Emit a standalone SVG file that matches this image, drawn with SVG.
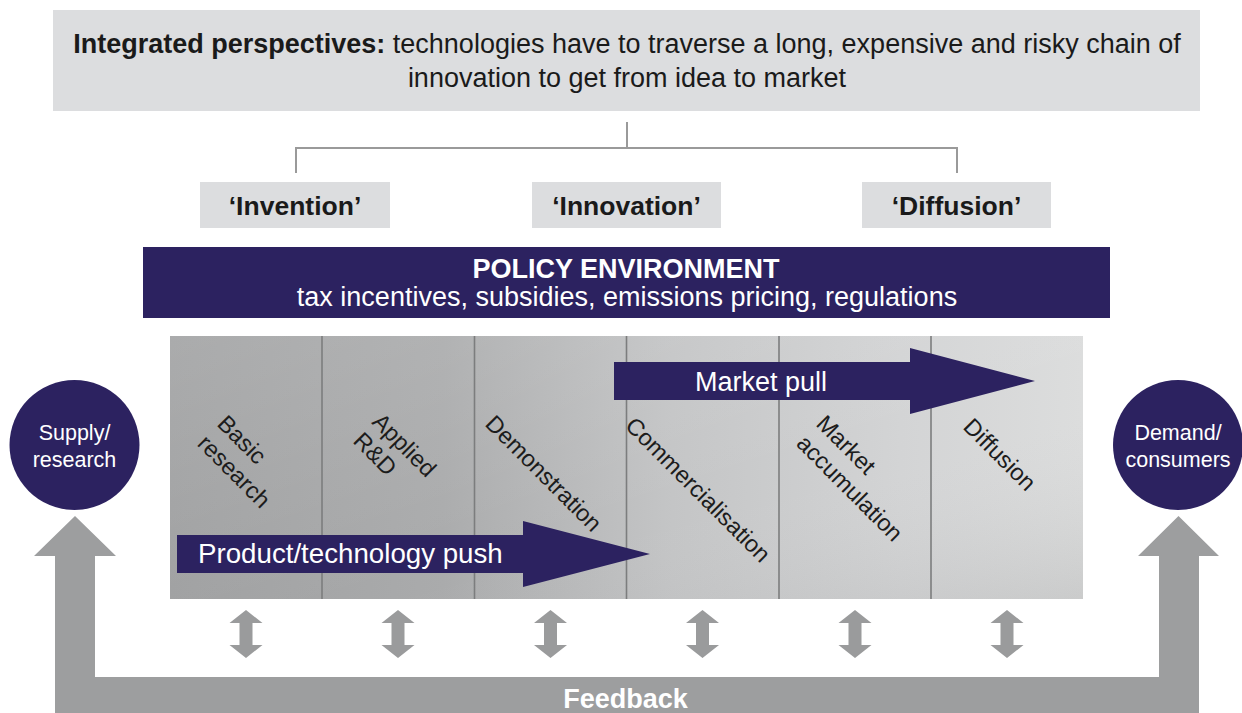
<svg xmlns="http://www.w3.org/2000/svg" width="1242" height="713" viewBox="0 0 1242 713">
  <defs>
    <linearGradient id="panelFill" x1="170" y1="0" x2="1083" y2="0" gradientUnits="userSpaceOnUse">
      <stop offset="0" stop-color="#9fa0a1"/>
      <stop offset="0.3" stop-color="#aaabac"/>
      <stop offset="0.55" stop-color="#c4c5c6"/>
      <stop offset="0.8" stop-color="#d3d4d5"/>
      <stop offset="1" stop-color="#dcdddd"/>
    </linearGradient>
    <linearGradient id="panelShade" x1="0" y1="0" x2="1" y2="1">
      <stop offset="0" stop-color="#ffffff" stop-opacity="0.12"/>
      <stop offset="0.6" stop-color="#ffffff" stop-opacity="0"/>
      <stop offset="1" stop-color="#000000" stop-opacity="0.08"/>
    </linearGradient>
    <path id="dbl" d="M0,0 L16.5,13 L6.5,13 L6.5,35 L16.5,35 L0,48 L-16.5,35 L-6.5,35 L-6.5,13 L-16.5,13 Z"/>
  </defs>
  <style>
    text { font-family: "Liberation Sans", Arial, Helvetica, sans-serif; }
    .greybox { fill: #dcdddf; }
    .navy { fill: #2c2260; }
    .title { font-size: 27px; fill: #1a1a1a; }
    .phase { font-size: 26.5px; font-weight: bold; fill: #1a1a1a; text-anchor: middle; }
    .policyHead { font-size: 27px; font-weight: bold; fill: #ffffff; text-anchor: middle; }
    .policySub { font-size: 27px; fill: #ffffff; text-anchor: middle; }
    .stage { font-size: 23.5px; fill: #1c1c1c; }
    .circleText { font-size: 21.5px; fill: #ffffff; text-anchor: middle; }
    .arrowText { font-size: 27px; fill: #ffffff; }
    .pushText { font-size: 27.7px; }
    .bracket { fill: none; stroke: #9a9a9a; stroke-width: 2; }
    .divider { stroke: #7c7d7e; stroke-width: 1.6; }
    .grey { fill: #9d9e9f; }
    .dblArrow { fill: #9a9b9c; }
  </style>

  <!-- headline box -->
  <g id="headline">
    <rect class="greybox" x="53" y="10" width="1147" height="101"/>
    <text class="title" x="627" y="53" text-anchor="middle"><tspan font-weight="bold">Integrated perspectives:</tspan> technologies have to traverse a long, expensive and risky chain of</text>
    <text class="title" x="627" y="87" text-anchor="middle">innovation to get from idea to market</text>
  </g>

  <!-- phase labels -->
  <g id="phase-invention">
    <rect class="greybox" x="200" y="182" width="190" height="46"/>
    <text class="phase" x="295" y="215">‘Invention’</text>
  </g>
  <g id="phase-innovation">
    <rect class="greybox" x="532" y="182" width="189" height="46"/>
    <text class="phase" x="626.5" y="215">‘Innovation’</text>
  </g>
  <g id="phase-diffusion">
    <rect class="greybox" x="862" y="182" width="189" height="46"/>
    <text class="phase" x="956.5" y="215">‘Diffusion’</text>
  </g>

  <!-- policy environment bar -->
  <g id="policy">
    <rect class="navy" x="143" y="247" width="967" height="71"/>
    <text class="policyHead" x="626" y="278">POLICY ENVIRONMENT</text>
    <text class="policySub" x="627" y="306">tax incentives, subsidies, emissions pricing, regulations</text>
  </g>

  <!-- innovation chain stages -->
  <g id="stages">
    <rect x="170" y="336" width="913" height="263" fill="url(#panelFill)"/>
    <rect x="170" y="336" width="913" height="263" fill="url(#panelShade)"/>
    <line class="divider" x1="322" y1="336" x2="322" y2="599"/>
    <line class="divider" x1="474.5" y1="336" x2="474.5" y2="599"/>
    <line class="divider" x1="626.5" y1="336" x2="626.5" y2="599"/>
    <line class="divider" x1="779" y1="336" x2="779" y2="599"/>
    <line class="divider" x1="931" y1="336" x2="931" y2="599"/>
  </g>
  <g id="stage-basic-research">
    <text class="stage" transform="translate(216,425) rotate(45)"><tspan x="0" y="0">Basic</tspan><tspan x="0" y="28">research</tspan></text>
  </g>
  <g id="stage-applied-rd">
    <text class="stage" transform="translate(371,423) rotate(45)"><tspan x="0" y="0">Applied</tspan><tspan x="0" y="27">R&amp;D</tspan></text>
  </g>
  <g id="stage-demonstration">
    <text class="stage" transform="translate(484,425) rotate(45)">Demonstration</text>
  </g>
  <g id="stage-commercialisation">
    <text class="stage" transform="translate(624,427) rotate(45)">Commercialisation</text>
  </g>
  <g id="stage-market-accumulation">
    <text class="stage" transform="translate(815,425) rotate(45)"><tspan x="0" y="0">Market</tspan><tspan x="0" y="28">accumulation</tspan></text>
  </g>
  <g id="stage-diffusion">
    <text class="stage" transform="translate(962,428) rotate(45)">Diffusion</text>
  </g>

  <!-- push and pull arrows -->
  <g id="market-pull">
    <path class="navy" d="M614,362 L910,362 L910,348 L1035,381 L910,414 L910,400 L614,400 Z"/>
    <text class="arrowText" x="761" y="391" text-anchor="middle">Market pull</text>
  </g>
  <g id="technology-push">
    <path class="navy" d="M177,535 L523,535 L523,521 L650,554 L523,587 L523,573 L177,573 Z"/>
    <text class="arrowText pushText" x="198" y="563">Product/technology push</text>
  </g>

  <!-- end nodes -->
  <g id="supply-research">
    <circle class="navy" cx="74.5" cy="445" r="65"/>
    <text class="circleText" x="74.5" y="440">Supply/</text>
    <text class="circleText" x="74.5" y="467">research</text>
  </g>
  <g id="demand-consumers">
    <circle class="navy" cx="1178" cy="445" r="65"/>
    <text class="circleText" x="1178" y="440">Demand/</text>
    <text class="circleText" x="1178" y="467">consumers</text>
  </g>

  <!-- connectors -->
  <g id="connectors">
    <path class="bracket" d="M627,122 V148 M296,173 V148 H957 V173"/>
    <path class="grey" d="M75,516 L116,556 L95,556 L95,677 L1159,677 L1159,556 L1138,556 L1178.5,516 L1219,556 L1199,556 L1199,713 L55,713 L55,556 L34,556 Z"/>
    <use href="#dbl" class="dblArrow" x="246" y="610"/>
    <use href="#dbl" class="dblArrow" x="398" y="610"/>
    <use href="#dbl" class="dblArrow" x="550.5" y="610"/>
    <use href="#dbl" class="dblArrow" x="702.5" y="610"/>
    <use href="#dbl" class="dblArrow" x="855" y="610"/>
    <use href="#dbl" class="dblArrow" x="1007" y="610"/>
    <text x="625.5" y="708" text-anchor="middle" font-size="27" font-weight="bold" fill="#ffffff">Feedback</text>
  </g>
</svg>
